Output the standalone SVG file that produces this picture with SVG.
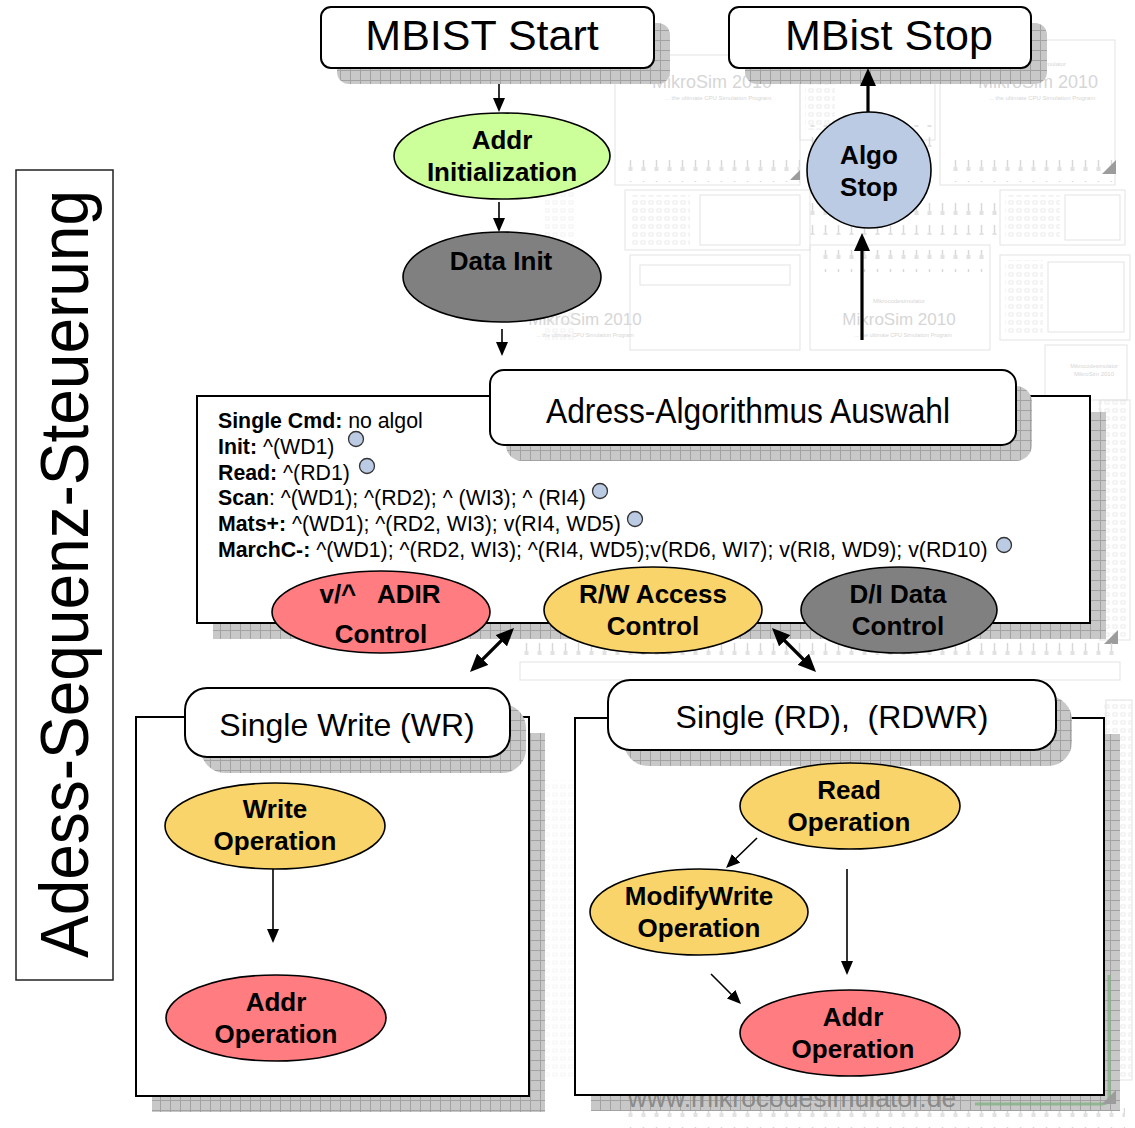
<svg xmlns="http://www.w3.org/2000/svg" width="1135" height="1128" viewBox="0 0 1135 1128">
  <defs>
    <style>
      .sans { font-family: "Liberation Sans", Arial, sans-serif; }
      .box { fill: #ffffff; stroke: #000000; stroke-width: 2; }
      .shadow { fill: url(#hatch); }
      .ell { stroke: #000000; stroke-width: 1.6; }
      .green { fill: #ccff99; }
      .red { fill: #ff7c80; }
      .yellow { fill: #f8d46a; }
      .grey { fill: #808080; }
      .blue { fill: #bccbe4; }
      .lbl { font-family: "Liberation Sans", Arial, sans-serif; font-weight: bold; font-size: 26px; text-anchor: middle; fill: #000; white-space: pre; }
      .title { font-family: "Liberation Sans", Arial, sans-serif; font-size: 43px; text-anchor: middle; fill: #000; white-space: pre; }
      .head { font-family: "Liberation Sans", Arial, sans-serif; font-size: 32px; text-anchor: middle; fill: #000; white-space: pre; }
      .algo { font-family: "Liberation Sans", Arial, sans-serif; font-size: 21.3px; fill: #000; }
      .algo .k { font-weight: bold; }
      .dot { fill: #bccbe4; stroke: #333; stroke-width: 1.3; }
      .edge { fill: none; stroke: #000; stroke-width: 1.6; }
      .edge-thick { fill: none; stroke: #000; stroke-width: 3.2; }
      .wm-line { fill: none; stroke: #e3e3e3; stroke-width: 1; }
      .wm-text { font-family: "Liberation Sans", Arial, sans-serif; fill: #d6d6d6; }
      .wm-tri { fill: #9c9c9c; }
    </style>
    <!-- grid-textured drop shadow -->
    <pattern id="hatch" width="10" height="10" patternUnits="userSpaceOnUse">
      <rect width="10" height="10" fill="#c8c8c8"/>
      <path d="M0 0.5H10M0.5 0V10" stroke="#a2a2a2" stroke-width="1"/>
    </pattern>
    <!-- faint ruler ticks of the background screenshots -->
    <pattern id="ticks" width="13" height="22" patternUnits="userSpaceOnUse">
      <path d="M6.5 5V17" stroke="#d8d8d8" stroke-width="1.5"/>
      <rect x="4.5" y="13" width="4" height="4" fill="#e2e2e2"/>
    </pattern>
    <pattern id="chips" width="8" height="8" patternUnits="userSpaceOnUse">
      <rect x="1" y="1" width="4" height="3" fill="none" stroke="#e6e6e6" stroke-width="0.8"/>
    </pattern>
    <marker id="arr" viewBox="0 0 14 12" refX="10" refY="6" markerWidth="14" markerHeight="12" markerUnits="userSpaceOnUse" orient="auto">
      <path d="M0 0L14 6L0 12Z" fill="#000"/>
    </marker>
    <marker id="arr-thick" viewBox="0 0 18 16" refX="13" refY="8" markerWidth="18" markerHeight="16" markerUnits="userSpaceOnUse" orient="auto-start-reverse">
      <path d="M0 0L18 8L0 16Z" fill="#000"/>
    </marker>
  </defs>

  <rect width="1135" height="1128" fill="#ffffff"/>

  <!-- faint screenshot watermark in the background -->
  <g id="background">
    <rect class="wm-line" x="615" y="55" width="185" height="130"/>
    <rect class="wm-line" x="800" y="45" width="135" height="95"/>
    <rect class="wm-line" x="940" y="40" width="175" height="145"/>
    <rect x="805" y="60" width="30" height="70" fill="url(#chips)"/>
    <rect x="620" y="160" width="180" height="22" fill="url(#ticks)"/>
    <rect x="945" y="160" width="170" height="22" fill="url(#ticks)"/>
    <rect x="805" y="125" width="130" height="22" fill="url(#ticks)"/>
    <text class="wm-text" x="712" y="88" font-size="18" text-anchor="middle">MikroSim 2010</text>
    <text class="wm-text" x="718" y="100" font-size="6" text-anchor="middle">... the ultimate CPU Simulation Program</text>
    <text class="wm-text" x="1038" y="88" font-size="18" text-anchor="middle">MikroSim 2010</text>
    <text class="wm-text" x="1040" y="66" font-size="6" text-anchor="middle">Mikrocodesimulator</text>
    <text class="wm-text" x="1042" y="100" font-size="6" text-anchor="middle">... the ultimate CPU Simulation Program</text>
    <path class="wm-tri" d="M800 170L790 180L800 180Z"/>
    <path class="wm-tri" d="M1116 160L1102 174L1116 174Z"/>

    <rect class="wm-line" x="625" y="190" width="185" height="60"/>
    <rect x="630" y="195" width="60" height="50" fill="url(#chips)"/>
    <rect class="wm-line" x="700" y="195" width="100" height="50"/>
    <rect x="810" y="195" width="190" height="40" fill="url(#ticks)"/>
    <rect class="wm-line" x="1000" y="190" width="125" height="55"/>
    <rect x="1005" y="195" width="55" height="45" fill="url(#chips)"/>
    <rect class="wm-line" x="1065" y="195" width="55" height="45"/>
    <rect class="wm-line" x="630" y="255" width="170" height="95"/>
    <rect class="wm-line" x="640" y="265" width="150" height="20"/>
    <rect class="wm-line" x="810" y="245" width="180" height="105"/>
    <rect x="815" y="250" width="170" height="22" fill="url(#ticks)"/>
    <rect class="wm-line" x="1000" y="255" width="130" height="85"/>
    <rect x="1005" y="260" width="38" height="75" fill="url(#chips)"/>
    <rect class="wm-line" x="1048" y="262" width="76" height="70"/>
    <text class="wm-text" x="899" y="303" font-size="6" text-anchor="middle">Mikrocodesimulator</text>
    <text class="wm-text" x="899" y="325" font-size="17" text-anchor="middle">MikroSim 2010</text>
    <text class="wm-text" x="903" y="337" font-size="5.5" text-anchor="middle">... the ultimate CPU Simulation Program</text>
    <text class="wm-text" x="585" y="325" font-size="17" text-anchor="middle">MikroSim 2010</text>
    <text class="wm-text" x="585" y="337" font-size="5.5" text-anchor="middle">... the ultimate CPU Simulation Program</text>
    <rect class="wm-line" x="1045" y="345" width="82" height="55"/>
    <text class="wm-text" x="1094" y="368" font-size="5.5" text-anchor="middle">Mikrocodesimulator</text>
    <text class="wm-text" x="1094" y="376" font-size="6" text-anchor="middle" fill="#c8c8c8">MikroSim 2010</text>
    <rect x="1098" y="400" width="30" height="240" fill="url(#chips)"/>
    <rect class="wm-line" x="1100" y="400" width="30" height="240"/>
    <path class="wm-tri" d="M1118 630L1104 644L1118 644Z"/>
    <rect x="520" y="640" width="600" height="22" fill="url(#ticks)"/>
    <rect class="wm-line" x="520" y="662" width="600" height="18"/>
    <rect x="1104" y="700" width="28" height="380" fill="url(#chips)"/>
    <rect class="wm-line" x="1106" y="700" width="26" height="380"/>
    <rect x="620" y="1108" width="505" height="20" fill="url(#ticks)"/>
    <rect x="545" y="120" width="30" height="220" fill="url(#chips)" opacity="0.7"/>
    <rect x="545" y="780" width="30" height="300" fill="url(#chips)" opacity="0.5"/>
  </g>

  <!-- drop shadows of the large panels -->
  <g id="panel-shadows">
    <rect class="shadow" x="213" y="412" width="893" height="227"/>
    <rect class="shadow" x="152" y="733" width="393" height="379"/>
    <rect class="shadow" x="591" y="734" width="529" height="377"/>
  </g>

  <!-- site address and frame printed over the shadow -->
  <g id="watermark-front">
    <text class="sans" x="792" y="1107" font-size="26.5" text-anchor="middle" fill="#8a8a8a">www.mikrocodesimulator.de</text>
    <path d="M975 1104H1102Q1109 1104 1109 1097V975" fill="none" stroke="#7fb07f" stroke-width="3" opacity="0.75"/>
    <path class="wm-tri" d="M1116 1090L1102 1104L1116 1104Z"/>
  </g>

  <!-- vertical title -->
  <g id="title-bar">
    <rect x="16" y="170" width="97" height="810" fill="#ffffff" stroke="#222" stroke-width="1.5"/>
    <text class="sans" transform="translate(88 574) rotate(-90)" font-size="68" text-anchor="middle" textLength="768" lengthAdjust="spacingAndGlyphs">Adess-Sequenz-Steuerung</text>
  </g>

  <g id="mbist-start">
    <rect class="shadow" x="337" y="23" width="333" height="61" rx="12"/>
    <rect class="box" x="321" y="7" width="333" height="61" rx="10"/>
    <text class="title" x="482" y="50">MBIST Start</text>
  </g>

  <g id="mbist-stop">
    <rect class="shadow" x="745" y="23" width="302" height="61" rx="12"/>
    <rect class="box" x="729" y="7" width="302" height="61" rx="10"/>
    <text class="title" x="889" y="50">MBist Stop</text>
  </g>

  <g id="addr-init">
    <ellipse class="ell green" cx="502" cy="156" rx="108" ry="43"/>
    <text class="lbl" x="502" y="149">Addr</text>
    <text class="lbl" x="502" y="181">Initialization</text>
  </g>

  <g id="data-init">
    <ellipse class="ell grey" cx="502" cy="277" rx="99" ry="45"/>
    <text class="lbl" x="501" y="270">Data Init</text>
  </g>

  <g id="algo-stop">
    <ellipse class="ell blue" cx="869" cy="170" rx="62" ry="58"/>
    <text class="lbl" x="869" y="164">Algo</text>
    <text class="lbl" x="869" y="196">Stop</text>
  </g>

  <g id="algo-select">
    <rect class="box" x="197" y="396" width="893" height="227"/>
    <text class="algo" x="218" y="428"><tspan class="k">Single Cmd:</tspan> no algol</text>
    <text class="algo" x="218" y="454"><tspan class="k">Init:</tspan> ^(WD1)</text>
    <text class="algo" x="218" y="480"><tspan class="k">Read:</tspan> ^(RD1)</text>
    <text class="algo" x="218" y="505"><tspan class="k">Scan</tspan>: ^(WD1); ^(RD2); ^ (WI3); ^ (RI4)</text>
    <text class="algo" x="218" y="531"><tspan class="k">Mats+:</tspan> ^(WD1); ^(RD2, WI3); v(RI4, WD5)</text>
    <text class="algo" x="218" y="557"><tspan class="k">MarchC-:</tspan> ^(WD1); ^(RD2, WI3); ^(RI4, WD5);v(RD6, WI7); v(RI8, WD9); v(RD10)</text>
    <circle class="dot" cx="356" cy="439" r="7.5"/>
    <circle class="dot" cx="367" cy="466" r="7.5"/>
    <circle class="dot" cx="600" cy="491" r="7.5"/>
    <circle class="dot" cx="635" cy="519" r="7.5"/>
    <circle class="dot" cx="1004" cy="545" r="7.5"/>
  </g>

  <g id="algo-header">
    <rect class="shadow" x="506" y="386" width="526" height="75" rx="16"/>
    <rect class="box" x="490" y="370" width="526" height="75" rx="14"/>
    <text class="sans" x="748" y="423" font-size="35" text-anchor="middle" textLength="404" lengthAdjust="spacingAndGlyphs">Adress-Algorithmus Auswahl</text>
  </g>

  <g id="adir-control">
    <ellipse class="ell red" cx="381" cy="612" rx="109" ry="41"/>
    <text class="lbl" x="380" y="603">v/^   ADIR</text>
    <text class="lbl" x="381" y="643">Control</text>
  </g>

  <g id="rw-access-control">
    <ellipse class="ell yellow" cx="653" cy="610" rx="109" ry="43"/>
    <text class="lbl" x="653" y="603">R/W Access</text>
    <text class="lbl" x="653" y="635">Control</text>
  </g>

  <g id="di-data-control">
    <ellipse class="ell grey" cx="899" cy="610" rx="98" ry="43"/>
    <text class="lbl" x="898" y="603">D/I Data</text>
    <text class="lbl" x="898" y="635">Control</text>
  </g>

  <g id="single-write">
    <rect class="box" x="136" y="717" width="393" height="379"/>
    <rect class="shadow" x="201" y="704" width="325" height="69" rx="24"/>
    <rect class="box" x="185" y="688" width="325" height="69" rx="22"/>
    <text class="head" x="347" y="736">Single Write (WR)</text>
  </g>

  <g id="write-op">
    <ellipse class="ell yellow" cx="275" cy="826" rx="110" ry="43"/>
    <text class="lbl" x="275" y="818">Write</text>
    <text class="lbl" x="275" y="850">Operation</text>
  </g>

  <g id="addr-op-write">
    <ellipse class="ell red" cx="276" cy="1018" rx="110" ry="43"/>
    <text class="lbl" x="276" y="1011">Addr</text>
    <text class="lbl" x="276" y="1043">Operation</text>
  </g>

  <g id="single-read">
    <rect class="box" x="575" y="718" width="529" height="377"/>
    <rect class="shadow" x="624" y="696" width="448" height="70" rx="24"/>
    <rect class="box" x="608" y="680" width="448" height="70" rx="22"/>
    <text class="head" x="832" y="728" font-size="30">Single (RD),  (RDWR)</text>
  </g>

  <g id="read-op">
    <ellipse class="ell yellow" cx="850" cy="806" rx="110" ry="43"/>
    <text class="lbl" x="849" y="799">Read</text>
    <text class="lbl" x="849" y="831">Operation</text>
  </g>

  <g id="modify-write-op">
    <ellipse class="ell yellow" cx="699" cy="912" rx="109" ry="43"/>
    <text class="lbl" x="699" y="905">ModifyWrite</text>
    <text class="lbl" x="699" y="937">Operation</text>
  </g>

  <g id="addr-op-read">
    <ellipse class="ell red" cx="850" cy="1033" rx="110" ry="43"/>
    <text class="lbl" x="853" y="1026">Addr</text>
    <text class="lbl" x="853" y="1058">Operation</text>
  </g>

  <!-- connectors -->
  <g id="connectors">
    <line class="edge" x1="499" y1="84" x2="499" y2="108" marker-end="url(#arr)"/>
    <line class="edge" x1="499" y1="202" x2="499" y2="228" marker-end="url(#arr)"/>
    <line class="edge" x1="502" y1="329" x2="502" y2="352" marker-end="url(#arr)"/>
    <line class="edge-thick" x1="862" y1="340" x2="862" y2="238" marker-end="url(#arr-thick)"/>
    <line class="edge-thick" x1="868" y1="112" x2="868" y2="73" marker-end="url(#arr-thick)"/>
    <line class="edge-thick" x1="510.5" y1="631.5" x2="473.5" y2="668.5" marker-start="url(#arr-thick)" marker-end="url(#arr-thick)"/>
    <line class="edge-thick" x1="775.5" y1="631.5" x2="812.5" y2="668.5" marker-start="url(#arr-thick)" marker-end="url(#arr-thick)"/>
    <line class="edge" x1="273" y1="869" x2="273" y2="939" marker-end="url(#arr)"/>
    <line class="edge" x1="757" y1="838" x2="728.9" y2="865.2" marker-end="url(#arr)"/>
    <line class="edge" x1="847" y1="869" x2="847" y2="971" marker-end="url(#arr)"/>
    <line class="edge" x1="711" y1="974" x2="738.2" y2="1001.2" marker-end="url(#arr)"/>
  </g>
</svg>
